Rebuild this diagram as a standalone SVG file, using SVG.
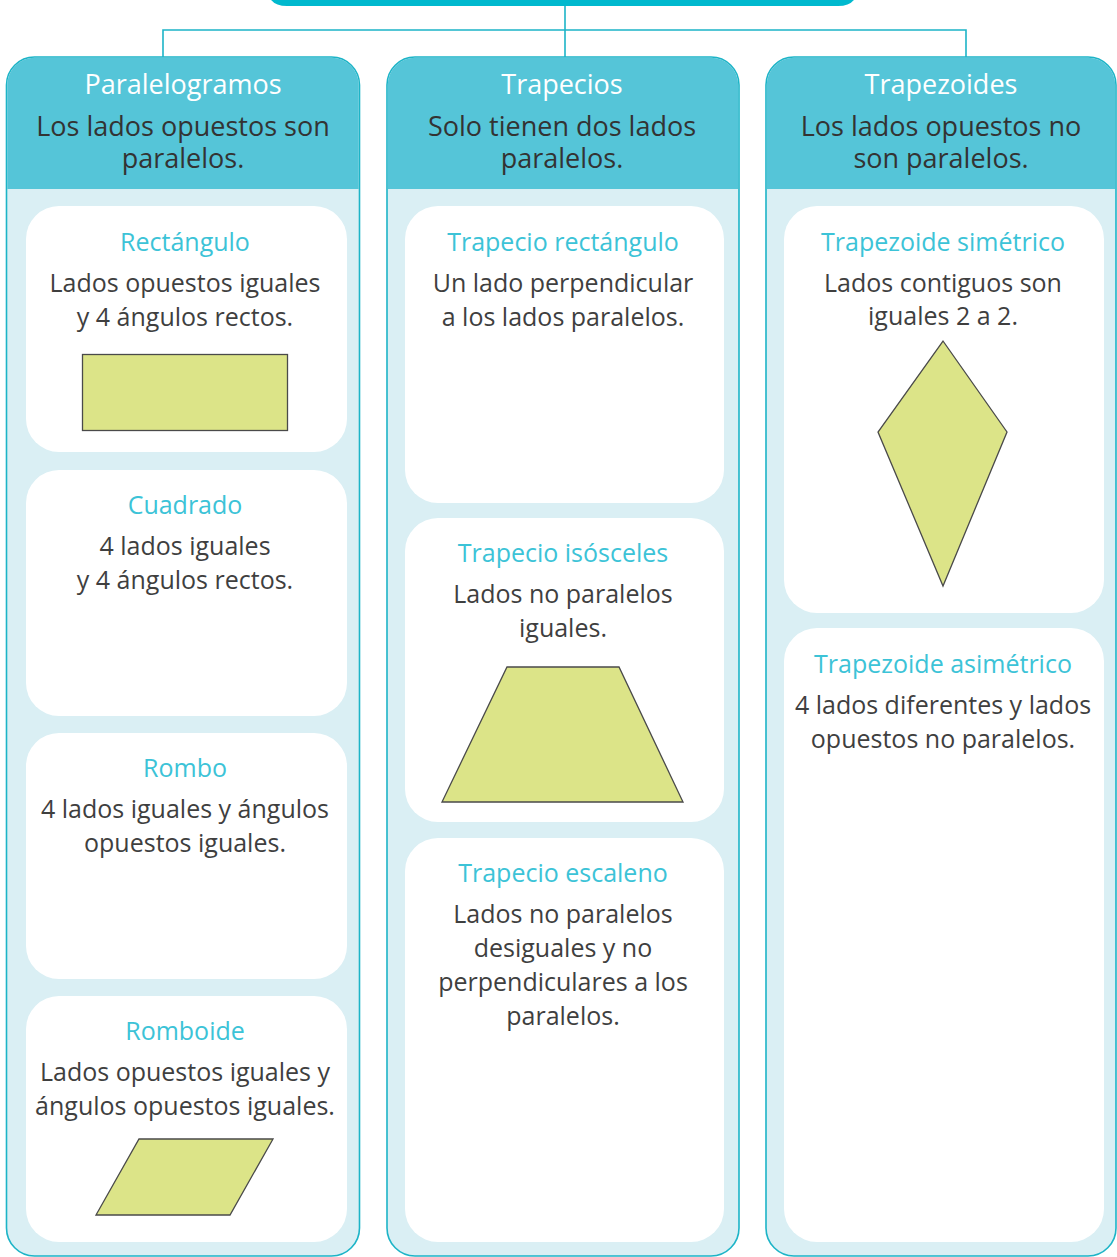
<svg xmlns="http://www.w3.org/2000/svg" width="1117" height="1257" viewBox="0 0 1117 1257">
<style>
.col{fill:#DAEFF4;stroke:#1DB4C7;stroke-width:1.6}
.hdr{fill:#55C5D8}
.card{fill:#FFFFFF}
.shape{fill:#DCE488;stroke:#4A4A4A;stroke-width:1.3}
.conn{fill:none;stroke:#1DB4C7;stroke-width:1.6}
text{font-family:"Open Sans","Noto Sans","Liberation Sans",sans-serif;text-anchor:middle}
.ht{fill:#FFFFFF;font-size:27px}
.hd{fill:#333333;font-size:27px}
.ct{fill:#3CC3D7;font-size:25px}
.cd{fill:#3F3F3F;font-size:25px}
</style>
<rect width="1117" height="1257" fill="#FFFFFF"/>
<g id="connectors">
<path class="conn" d="M565 5 V57 M163 57 V30 H966 V57"/>
</g>
<g id="top">
<path d="M267 -30 H858 V-25 V-14 Q858 6 838 6 H287 Q267 6 267 -14 Z" fill="#00B9CE"/>
</g>
<g id="col-paralelogramos">
<rect class="col" x="6.5" y="57" width="353" height="1199" rx="28"/>
<path class="hdr" d="M7.3 189 V85 A27.2 27.2 0 0 1 34.5 57.8 H331.5 A27.2 27.2 0 0 1 358.7 85 V189 Z"/>
<text class="ht" x="183" y="94">Paralelogramos</text>
<text class="hd" x="183" y="136">Los lados opuestos son</text>
<text class="hd" x="183" y="168">paralelos.</text>
</g>
<g id="col-trapecios">
<rect class="col" x="387" y="57" width="352" height="1199" rx="28"/>
<path class="hdr" d="M387.8 189 V85 A27.2 27.2 0 0 1 415 57.8 H711 A27.2 27.2 0 0 1 738.2 85 V189 Z"/>
<text class="ht" x="562" y="94">Trapecios</text>
<text class="hd" x="562" y="136">Solo tienen dos lados</text>
<text class="hd" x="562" y="168">paralelos.</text>
</g>
<g id="col-trapezoides">
<rect class="col" x="766" y="57" width="350" height="1199" rx="28"/>
<path class="hdr" d="M766.8 189 V85 A27.2 27.2 0 0 1 794 57.8 H1088 A27.2 27.2 0 0 1 1115.2 85 V189 Z"/>
<text class="ht" x="941" y="94">Trapezoides</text>
<text class="hd" x="941" y="136">Los lados opuestos no</text>
<text class="hd" x="941" y="168">son paralelos.</text>
</g>
<g id="rectangulo">
<rect class="card" x="26" y="206" width="321" height="246" rx="33"/>
<text class="ct" x="185" y="251">Rectángulo</text>
<text class="cd" x="185" y="292">Lados opuestos iguales</text>
<text class="cd" x="185" y="326">y 4 ángulos rectos.</text>
<rect class="shape" x="82.5" y="354.5" width="205" height="76"/>
</g>
<g id="cuadrado">
<rect class="card" x="26" y="470" width="321" height="246" rx="33"/>
<text class="ct" x="185" y="514">Cuadrado</text>
<text class="cd" x="185" y="555">4 lados iguales</text>
<text class="cd" x="185" y="589">y 4 ángulos rectos.</text>
</g>
<g id="rombo">
<rect class="card" x="26" y="733" width="321" height="246" rx="33"/>
<text class="ct" x="185" y="777">Rombo</text>
<text class="cd" x="185" y="818">4 lados iguales y ángulos</text>
<text class="cd" x="185" y="852">opuestos iguales.</text>
</g>
<g id="romboide">
<rect class="card" x="26" y="996" width="321" height="246" rx="33"/>
<text class="ct" x="185" y="1040">Romboide</text>
<text class="cd" x="185" y="1081">Lados opuestos iguales y</text>
<text class="cd" x="185" y="1115">ángulos opuestos iguales.</text>
<polygon class="shape" points="139,1139 273,1139 230,1215 96,1215"/>
</g>
<g id="trapecio-rectangulo">
<rect class="card" x="405" y="206" width="319" height="297" rx="33"/>
<text class="ct" x="563" y="251">Trapecio rectángulo</text>
<text class="cd" x="563" y="292">Un lado perpendicular</text>
<text class="cd" x="563" y="326">a los lados paralelos.</text>
</g>
<g id="trapecio-isosceles">
<rect class="card" x="405" y="518" width="319" height="304" rx="33"/>
<text class="ct" x="563" y="562">Trapecio isósceles</text>
<text class="cd" x="563" y="603">Lados no paralelos</text>
<text class="cd" x="563" y="637">iguales.</text>
<polygon class="shape" points="507,667 619,667 683,802 442,802"/>
</g>
<g id="trapecio-escaleno">
<rect class="card" x="405" y="838" width="319" height="404" rx="33"/>
<text class="ct" x="563" y="882">Trapecio escaleno</text>
<text class="cd" x="563" y="923">Lados no paralelos</text>
<text class="cd" x="563" y="957">desiguales y no</text>
<text class="cd" x="563" y="991">perpendiculares a los</text>
<text class="cd" x="563" y="1025">paralelos.</text>
</g>
<g id="trapezoide-simetrico">
<rect class="card" x="784" y="206" width="320" height="407" rx="33"/>
<text class="ct" x="943" y="251">Trapezoide simétrico</text>
<text class="cd" x="943" y="292">Lados contiguos son</text>
<text class="cd" x="943" y="325">iguales 2 a 2.</text>
<polygon class="shape" points="943,341 1007,432 943,586 878,432"/>
</g>
<g id="trapezoide-asimetrico">
<rect class="card" x="784" y="628" width="320" height="614" rx="33"/>
<text class="ct" x="943" y="673">Trapezoide asimétrico</text>
<text class="cd" x="943" y="714">4 lados diferentes y lados</text>
<text class="cd" x="943" y="748">opuestos no paralelos.</text>
</g>
</svg>
